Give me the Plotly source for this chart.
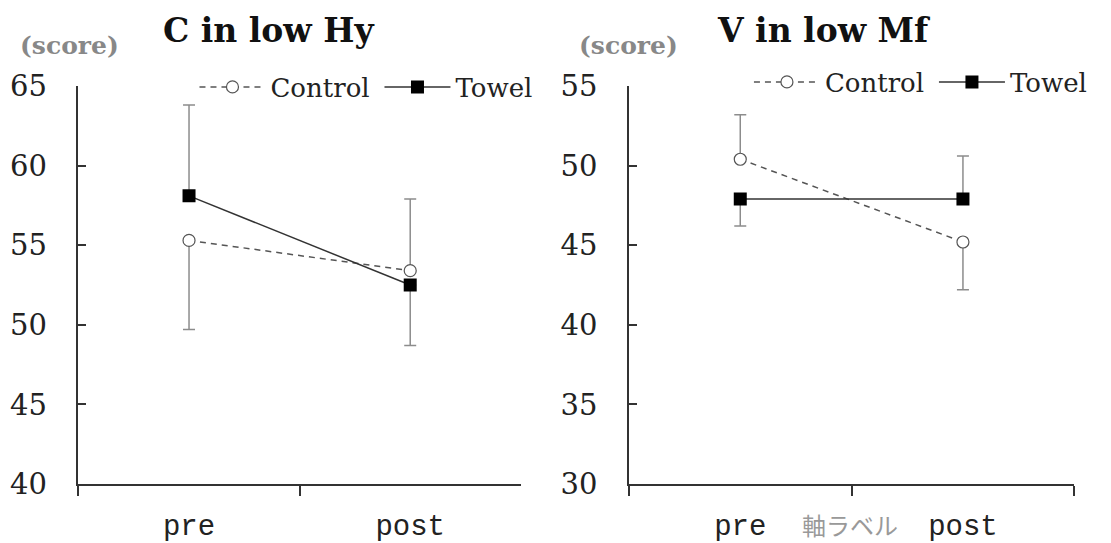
import plotly.graph_objects as go

categories = ["pre", "post"]

# Left panel: C in low Hy
left_control = [55.3, 53.4]
left_control_plus = [0.0, 4.5]
left_control_minus = [5.6, 0.0]
left_towel = [58.1, 52.5]
left_towel_plus = [5.7, 0.0]
left_towel_minus = [0.0, 3.8]

# Right panel: V in low Mf
right_control = [50.4, 45.2]
right_control_plus = [2.8, 0.0]
right_control_minus = [0.0, 3.0]
right_towel = [47.9, 47.9]
right_towel_plus = [0.0, 2.7]
right_towel_minus = [1.7, 0.0]

left_ticks = [40, 45, 50, 55, 60, 65]
right_ticks = [30, 35, 40, 45, 50, 55]

SERIF = "DejaVu Serif"
AX = "#333333"
ERR = "#8c8c8c"

# the page body adds an 8px offset; positions below are given in window pixels
OFF = 8
W, H = 1111, 543


def fx(px):
    return (px - OFF) / W


def fy(py):
    return 1 - (py - OFF) / H


fig = go.Figure()


def add_pair(ctrl, cp, cm, tow, tp, tm, xa, ya, leg):
    fig.add_trace(go.Scatter(
        x=categories, y=ctrl, name="Control", mode="lines+markers",
        line=dict(color="#555555", width=1.5, dash="6px,5px"),
        marker=dict(symbol="circle", size=12, color="white",
                    line=dict(color="#555555", width=1.2)),
        error_y=dict(type="data", symmetric=False, array=cp, arrayminus=cm,
                     color=ERR, thickness=1.5, width=6),
        xaxis=xa, yaxis=ya, legend=leg))
    fig.add_trace(go.Scatter(
        x=categories, y=tow, name="Towel", mode="lines+markers",
        line=dict(color="#333333", width=1.5),
        marker=dict(symbol="square", size=13, color="black"),
        error_y=dict(type="data", symmetric=False, array=tp, arrayminus=tm,
                     color=ERR, thickness=1.5, width=6),
        xaxis=xa, yaxis=ya, legend=leg))


add_pair(left_control, left_control_plus, left_control_minus,
         left_towel, left_towel_plus, left_towel_minus, "x", "y", "legend")
add_pair(right_control, right_control_plus, right_control_minus,
         right_towel, right_towel_plus, right_towel_minus, "x2", "y2", "legend2")

ydom = [fy(484), fy(86)]

xcommon = dict(type="category", range=[-0.5, 1.5], showline=True, linecolor=AX,
               linewidth=1.5, ticks="outside", ticklen=10, tickcolor=AX,
               tickwidth=1.5, tickson="boundaries", showgrid=False, zeroline=False,
               automargin=False, ticklabelstandoff=14,
               tickfont=dict(family="Liberation Mono", size=29, color="#222"),
               fixedrange=True)
ycommon = dict(showline=True, linecolor=AX, linewidth=1.5, ticks="inside",
               ticklen=8, tickcolor=AX, tickwidth=1.5, showgrid=False,
               zeroline=False, ticklabelstandoff=24, automargin=False,
               tickfont=dict(family=SERIF, size=29, color="#222"))

legend_common = dict(orientation="h", xanchor="left", yanchor="middle",
                     font=dict(family=SERIF, size=26, color="#222"),
                     bgcolor="rgba(0,0,0,0)", itemwidth=66, entrywidth=104,
                     tracegroupgap=0)

fig.update_layout(
    width=W, height=H,
    margin=dict(l=0, r=0, t=0, b=0),
    paper_bgcolor="white", plot_bgcolor="white",
    xaxis=dict(domain=[fx(79), fx(525)], anchor="y", **xcommon),
    yaxis=dict(domain=ydom, anchor="x", range=[40, 65], tickvals=left_ticks, **ycommon),
    xaxis2=dict(domain=[fx(634), fx(1083)], anchor="y2", **xcommon),
    yaxis2=dict(domain=ydom, anchor="x2", range=[30, 55], tickvals=right_ticks, **ycommon),
    legend=dict(x=fx(196), y=fy(87), **legend_common),
    legend2=dict(x=fx(755), y=fy(82), **legend_common),
    showlegend=True,
)

annotations = [
    dict(text="<b>C in low Hy</b>", x=fx(271), y=fy(30)),
    dict(text="<b>V in low Mf</b>", x=fx(830), y=fy(30)),
]
for a in annotations:
    fig.add_annotation(xref="paper", yref="paper", xanchor="center", yanchor="middle",
                       showarrow=False, font=dict(family=SERIF, size=33, color="#111"), **a)
for xx in [70, 634]:
    fig.add_annotation(text="<b>(score)</b>", xref="paper", yref="paper",
                       x=fx(xx), y=fy(45), xanchor="center", yanchor="middle",
                       showarrow=False, font=dict(family=SERIF, size=25, color="#888"))
fig.add_annotation(text="軸ラベル", xref="paper", yref="paper", x=fx(857), y=fy(524),
                   xanchor="center", yanchor="middle", showarrow=False,
                   font=dict(family="Noto Sans CJK JP", size=24, color="#999"))

fig.write_html("out.html")
